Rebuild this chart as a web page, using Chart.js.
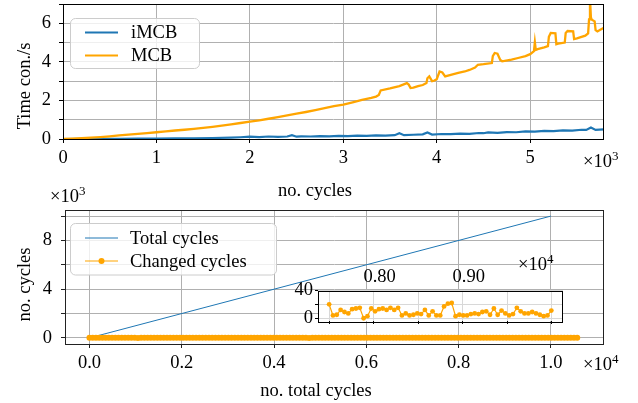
<!DOCTYPE html>
<html>
<head>
<meta charset="utf-8">
<script src="https://cdn.jsdelivr.net/npm/chart.js@4.4.0/dist/chart.umd.min.js"></script>
<style>
html, body { margin: 0; padding: 0; background: #fff; }
#wrap { position: relative; width: 638px; height: 403px; overflow: hidden; }
canvas { position: absolute; left: 0; top: 0; }
</style>
</head>
<body>
<div id="wrap">
  <canvas id="bottomChart" width="638" height="403"></canvas>
  <canvas id="insetChart" width="638" height="403"></canvas>
  <canvas id="topChart" width="638" height="403"></canvas>
</div>
<script>
// ---- top plot: time consumption vs cycles
const mcbX = [
  0, 100, 200, 300, 400, 500, 600, 700, 800, 900,
  1000, 1100, 1200, 1300, 1400, 1500, 1600, 1700, 1800, 1900,
  2000, 2100, 2200, 2300, 2400, 2500, 2600, 2700, 2800, 2900,
  3000, 3100, 3200, 3300, 3350, 3380, 3400, 3500, 3600, 3680,
  3700, 3720, 3750, 3800, 3850, 3890, 3900, 3920, 3950, 3970,
  4000, 4030, 4060, 4090, 4150, 4230, 4300, 4350, 4410, 4440,
  4500, 4590, 4600, 4620, 4650, 4680, 4700, 4800, 4870, 4950,
  5000, 5040, 5050, 5060, 5080, 5150, 5190, 5200, 5220, 5270,
  5280, 5300, 5370, 5380, 5400, 5460, 5470, 5500, 5590, 5620,
  5630, 5640, 5650, 5660, 5690, 5700, 5720, 5750, 5790
]
const mcbY = [
  0.00, 0.02, 0.04, 0.07, 0.10, 0.14, 0.19, 0.23, 0.27, 0.31,
  0.35, 0.39, 0.44, 0.48, 0.53, 0.58, 0.63, 0.69, 0.76, 0.83,
  0.90, 0.97, 1.05, 1.14, 1.22, 1.31, 1.40, 1.50, 1.60, 1.70,
  1.78, 1.90, 2.03, 2.13, 2.20, 2.28, 2.52, 2.62, 2.74, 2.90,
  2.82, 2.64, 2.66, 2.74, 2.80, 2.90, 3.15, 3.25, 3.00, 3.02,
  3.10, 3.50, 3.45, 3.25, 3.33, 3.43, 3.50, 3.58, 3.70, 3.85,
  3.88, 3.94, 4.30, 4.46, 4.42, 4.10, 4.03, 4.12, 4.20, 4.30,
  4.40, 4.55, 5.02, 4.62, 4.66, 4.75, 4.82, 5.30, 5.50, 5.48,
  4.92, 4.95, 5.00, 5.50, 5.60, 5.58, 5.18, 5.22, 5.36, 5.48,
  6.20, 7.30, 6.30, 6.18, 6.10, 5.65, 5.58, 5.66, 5.77
]
const imcbX = [
  0, 200, 400, 600, 800, 1000, 1200, 1400, 1600, 1800,
  1900, 2000, 2100, 2200, 2300, 2400, 2450, 2500, 2550, 2650,
  2750, 2850, 2950, 3050, 3150, 3250, 3350, 3450, 3550, 3600,
  3650, 3750, 3850, 3900, 3950, 4050, 4150, 4250, 4350, 4450,
  4500, 4550, 4650, 4750, 4850, 4950, 5050, 5150, 5250, 5350,
  5450, 5550, 5600, 5650, 5700, 5790
]
const imcbY = [
  0, 0.003, 0.006, 0.01, 0.015, 0.02, 0.03, 0.035, 0.05, 0.07,
  0.09, 0.12, 0.10, 0.13, 0.11, 0.13, 0.20, 0.12, 0.14, 0.13,
  0.15, 0.14, 0.16, 0.15, 0.17, 0.16, 0.19, 0.18, 0.20, 0.30,
  0.20, 0.22, 0.24, 0.34, 0.23, 0.26, 0.25, 0.28, 0.27, 0.31,
  0.30, 0.34, 0.32, 0.36, 0.35, 0.40, 0.38, 0.42, 0.41, 0.45,
  0.43, 0.48, 0.47, 0.60, 0.47, 0.50
]
const topXTicks = [0, 1000, 2000, 3000, 4000, 5000]
const topYTicks = [0, 1, 2, 3, 4, 5, 6, 7]

// ---- bottom plot: total vs changed cycles
const totalX = [100, 10000]
const totalY = [100, 10000]
const BAND_STEP = 70
const changedAll = [
  12, 5, 9, 14, 7, 3, 11, 16, 8, 4, 13, 10, 6, 15, 9, 2, 12, 7, 5,
  10, 14, 4, 8, 12, 6, 17, 9, 3, 11, 7, 13, 5, 10, 15, 8, 4, 12, 6,
  9, 14, 3, 11, 7, 16, 5, 10, 8, 13, 4, 12, 9, 6, 15, 7, 11, 3, 14,
  8, 5, 12, 10, 6, 13, 4, 9, 15, 7, 11, 2, 10, 14, 5, 8, 12, 6, 9,
  13, 4, 11, 7, 15, 3, 10, 8, 12, 5, 14, 9, 6, 11, 4, 13, 7, 10, 16,
  5, 8, 12, 3, 14, 9, 6, 11, 20, 4, 7, 5, 13, 10, 6, 12, 4, 9, 15,
  7, 11, 5, 14, 8, 10, 3, 12, 6, 21, 9, 4, 13, 7, 11, 5, 10, 14, 6,
  8, 12, 4, 9, 15, 7, 11, 3, 10, 13, 5, 8, 12, 6, 14, 4, 9, 11, 7
]
const bottomXTicks = [0, 2000, 4000, 6000, 8000, 10000]
const bottomYTicks = [0, 2000, 4000, 6000, 8000, 10000]

// ---- inset: changed cycles between 7500 and 10000
const INSET_START = 7500
const INSET_STEP = 43
const changedZoom = [
  20, 4, 5, 12, 9, 7, 13, 14, 15, 0, 3, 14, 10, 13, 14, 12, 15, 12, 15, 4,
  7, 4, 5, 7, 6, 12, 4, 10, 4, 4, 17, 21, 22, 3, 5, 4, 4, 6, 7, 6,
  9, 10, 5, 14, 5, 11, 7, 4, 6, 15, 10, 7, 7, 9, 7, 5, 3, 4, 11
]
const insetXTicks = [7500, 8000, 8500, 9000, 9500, 10000]
const insetTopTicks = [8000, 9000]
const insetYTicks = [0, 20, 40]

const SERIF = "'Liberation Serif', 'DejaVu Serif', serif"
const FS = 18.5
const GRID = '#b0b0b0'
const BLUE = '#1f77b4'
const ORANGE = '#ffa500'

Chart.defaults.font.family = SERIF
Chart.defaults.font.size = FS
Chart.defaults.color = '#000'
Chart.defaults.animation = false
Chart.defaults.plugins.legend.display = false
Chart.defaults.plugins.tooltip.enabled = false

const toPoints = (xs, ys) => xs.map((x, i) => ({ x, y: ys[i] }))
const useTicks = list => scale => { scale.ticks = list.map(v => ({ value: v })) }
const fixSize = (w, h) => scale => {
  if (w != null) scale.width = w
  if (h != null) scale.height = h
  scale.paddingLeft = scale.paddingRight = scale.paddingTop = scale.paddingBottom = 0
}

const frame = (color) => ({
  id: 'frame',
  afterDatasetsDraw(chart) {
    const a = chart.chartArea, ctx = chart.ctx
    ctx.save()
    ctx.strokeStyle = color
    ctx.lineWidth = 1
    ctx.strokeRect(Math.round(a.left) + 0.5, Math.round(a.top) + 0.5,
      Math.round(a.right - a.left) - 1, Math.round(a.bottom - a.top))
    ctx.restore()
  }
})

const power = (ctx, x, y, base, exp) => {
  ctx.font = FS + 'px ' + SERIF
  ctx.textAlign = 'left'
  ctx.textBaseline = 'alphabetic'
  ctx.fillStyle = '#000'
  ctx.fillText(base, x, y)
  const w = ctx.measureText(base).width
  ctx.font = '13px ' + SERIF
  ctx.fillText(exp, x + w, y - 7)
}

const label = (ctx, text, x, y, rot) => {
  ctx.save()
  ctx.translate(x, y)
  if (rot) ctx.rotate(-Math.PI / 2)
  ctx.font = FS + 'px ' + SERIF
  ctx.textAlign = 'center'
  ctx.textBaseline = 'alphabetic'
  ctx.fillStyle = '#000'
  ctx.fillText(text, 0, 0)
  ctx.restore()
}

const roundBox = (ctx, x, y, w, h, r) => {
  ctx.beginPath()
  ctx.moveTo(x + r, y)
  ctx.arcTo(x + w, y, x + w, y + h, r)
  ctx.arcTo(x + w, y + h, x, y + h, r)
  ctx.arcTo(x, y + h, x, y, r)
  ctx.arcTo(x, y, x + w, y, r)
  ctx.closePath()
  ctx.fillStyle = 'rgba(255,255,255,0.8)'
  ctx.fill()
  ctx.strokeStyle = '#cccccc'
  ctx.lineWidth = 1
  ctx.stroke()
}

// legend like matplotlib: box plus line samples
const legend = (box, entries) => ({
  id: 'mplLegend',
  afterDraw(chart) {
    const ctx = chart.ctx
    ctx.save()
    roundBox(ctx, box.x, box.y, box.w, box.h, 5)
    entries.forEach(e => {
      ctx.strokeStyle = e.color
      ctx.lineWidth = e.width
      ctx.beginPath()
      ctx.moveTo(85, e.y)
      ctx.lineTo(118, e.y)
      ctx.stroke()
      if (e.dot) {
        ctx.fillStyle = e.color
        ctx.beginPath()
        ctx.arc(101.5, e.y, 3, 0, Math.PI * 2)
        ctx.fill()
      }
      ctx.fillStyle = '#000'
      ctx.font = FS + 'px ' + SERIF
      ctx.textAlign = 'left'
      ctx.textBaseline = 'middle'
      ctx.fillText(e.text, box.textX, e.y + 1)
    })
    ctx.restore()
  }
})

new Chart(document.getElementById('topChart'), {
  type: 'scatter',
  data: {
    datasets: [
      { label: 'iMCB', data: toPoints(imcbX, imcbY), showLine: true, borderColor: BLUE, borderWidth: 2.2, pointRadius: 0, order: 1 },
      { label: 'MCB', data: toPoints(mcbX, mcbY), showLine: true, borderColor: ORANGE, borderWidth: 2.3, pointRadius: 0, order: 0 }
    ]
  },
  options: {
    responsive: false,
    devicePixelRatio: 1,
    layout: { padding: { left: 13, right: 34, top: 4, bottom: 224 } },
    scales: {
      x: {
        type: 'linear', min: 0, max: 5790,
        afterBuildTicks: useTicks(topXTicks),
        afterFit: fixSize(null, 40),
        ticks: { padding: 4, maxRotation: 0, autoSkip: false, callback: v => String(v / 1000) },
        grid: { color: GRID, tickColor: '#000', tickLength: 4 },
        border: { display: false }
      },
      y: {
        type: 'linear', min: 0, max: 7,
        afterBuildTicks: useTicks(topYTicks),
        afterFit: fixSize(50, null),
        ticks: { padding: 8, autoSkip: false, callback: v => (v % 2 === 0 ? String(v) : '') },
        grid: { color: GRID, tickColor: '#000', tickLength: 4 },
        border: { display: false }
      }
    }
  },
  plugins: [
    frame('#000'),
    legend({ x: 70.5, y: 18.5, w: 129, h: 50, textX: 131 }, [
      { text: 'iMCB', color: BLUE, width: 2, y: 32.5 },
      { text: 'MCB', color: ORANGE, width: 2, y: 55.5 }
    ]),
    {
      id: 'topText',
      afterDraw(chart) {
        const ctx = chart.ctx
        label(ctx, 'Time con./s', 29.5, 86, true)
        label(ctx, 'no. cycles', 315, 196, false)
        power(ctx, 583, 166.5, '\u00d710', '3')
      }
    }
  ]
})

new Chart(document.getElementById('bottomChart'), {
  type: 'scatter',
  data: {
    datasets: [
      { label: 'Total cycles', data: toPoints(totalX, totalY), showLine: true, borderColor: BLUE, borderWidth: 1, pointRadius: 0, order: 1 },
      {
        label: 'Changed cycles',
        data: changedAll.map((v, i) => ({ x: i * BAND_STEP, y: v })),
        showLine: true, borderColor: ORANGE, borderWidth: 1.2,
        pointRadius: 3, pointBackgroundColor: ORANGE, pointBorderWidth: 0, order: 0
      }
    ]
  },
  options: {
    responsive: false,
    devicePixelRatio: 1,
    layout: { padding: { left: 15, right: 34, top: 210, bottom: 19 } },
    scales: {
      x: {
        type: 'linear', min: -530, max: 11150,
        afterBuildTicks: useTicks(bottomXTicks),
        afterFit: fixSize(null, 40),
        ticks: { padding: 4, maxRotation: 0, autoSkip: false, callback: v => (v / 10000).toFixed(1) },
        grid: { color: GRID, tickColor: '#222', tickLength: 4 },
        border: { display: false }
      },
      y: {
        type: 'linear', min: -500, max: 10500,
        afterBuildTicks: useTicks(bottomYTicks),
        afterFit: fixSize(50, null),
        ticks: { padding: 9, autoSkip: false, callback: v => (v % 4000 === 0 ? String(v / 1000) : '') },
        grid: { color: GRID, tickColor: '#222', tickLength: 4 },
        border: { display: false }
      }
    }
  },
  plugins: [
    frame('#222'),
    legend({ x: 70.5, y: 223.5, w: 206, h: 51.5, textX: 130 }, [
      { text: 'Total cycles', color: BLUE, width: 1, y: 238 },
      { text: 'Changed cycles', color: ORANGE, width: 1.2, y: 261, dot: true }
    ]),
    {
      id: 'bottomText',
      afterDraw(chart) {
        const ctx = chart.ctx
        label(ctx, 'no. cycles', 29.5, 284.5, true)
        label(ctx, 'no. total cycles', 316, 396, false)
        power(ctx, 50, 202, '\u00d710', '3')
        power(ctx, 583, 370, '\u00d710', '4')
      }
    }
  ]
})

new Chart(document.getElementById('insetChart'), {
  type: 'scatter',
  data: {
    datasets: [{
      label: 'Changed cycles',
      data: changedZoom.map((v, i) => ({ x: INSET_START + i * INSET_STEP, y: v })),
      showLine: true, borderColor: ORANGE, borderWidth: 1.2,
      pointRadius: 2.4, pointBackgroundColor: ORANGE, pointBorderWidth: 0
    }]
  },
  options: {
    responsive: false,
    devicePixelRatio: 1,
    layout: { padding: { left: 288, right: 75, top: 290.5, bottom: 74 } },
    scales: {
      x: {
        type: 'linear', position: 'bottom', min: 7375, max: 10125,
        afterBuildTicks: useTicks(insetXTicks),
        afterFit: fixSize(null, 8),
        ticks: { display: false },
        grid: { color: '#d8d8d8', tickColor: '#000', tickLength: 3 },
        border: { display: false }
      },
      y: {
        type: 'linear', min: -4, max: 40,
        afterBuildTicks: useTicks(insetYTicks),
        afterFit: fixSize(30, null),
        ticks: { padding: 2, autoSkip: false, callback: v => (v === 20 ? '' : String(v)) },
        grid: { color: '#d8d8d8', tickColor: '#000', tickLength: 3 },
        border: { display: false }
      }
    }
  },
  plugins: [
    {
      id: 'insetBg',
      beforeDraw(chart) {
        const a = chart.chartArea, ctx = chart.ctx
        ctx.save()
        ctx.fillStyle = '#fff'
        ctx.fillRect(a.left, a.top, a.right - a.left, a.bottom - a.top)
        ctx.restore()
      }
    },
    frame('#000'),
    {
      // tick labels of the inset sit above its frame
      id: 'insetText',
      afterDraw(chart) {
        const ctx = chart.ctx, sx = chart.scales.x
        ctx.save()
        ctx.font = FS + 'px ' + SERIF
        ctx.fillStyle = '#000'
        ctx.textAlign = 'center'
        ctx.textBaseline = 'alphabetic'
        insetTopTicks.forEach(v => ctx.fillText((v / 10000).toFixed(2), sx.getPixelForValue(v) + 6, 281.5))
        ctx.restore()
        power(ctx, 518, 269.5, '\u00d710', '4')
      }
    }
  ]
})
</script>
</body>
</html>
